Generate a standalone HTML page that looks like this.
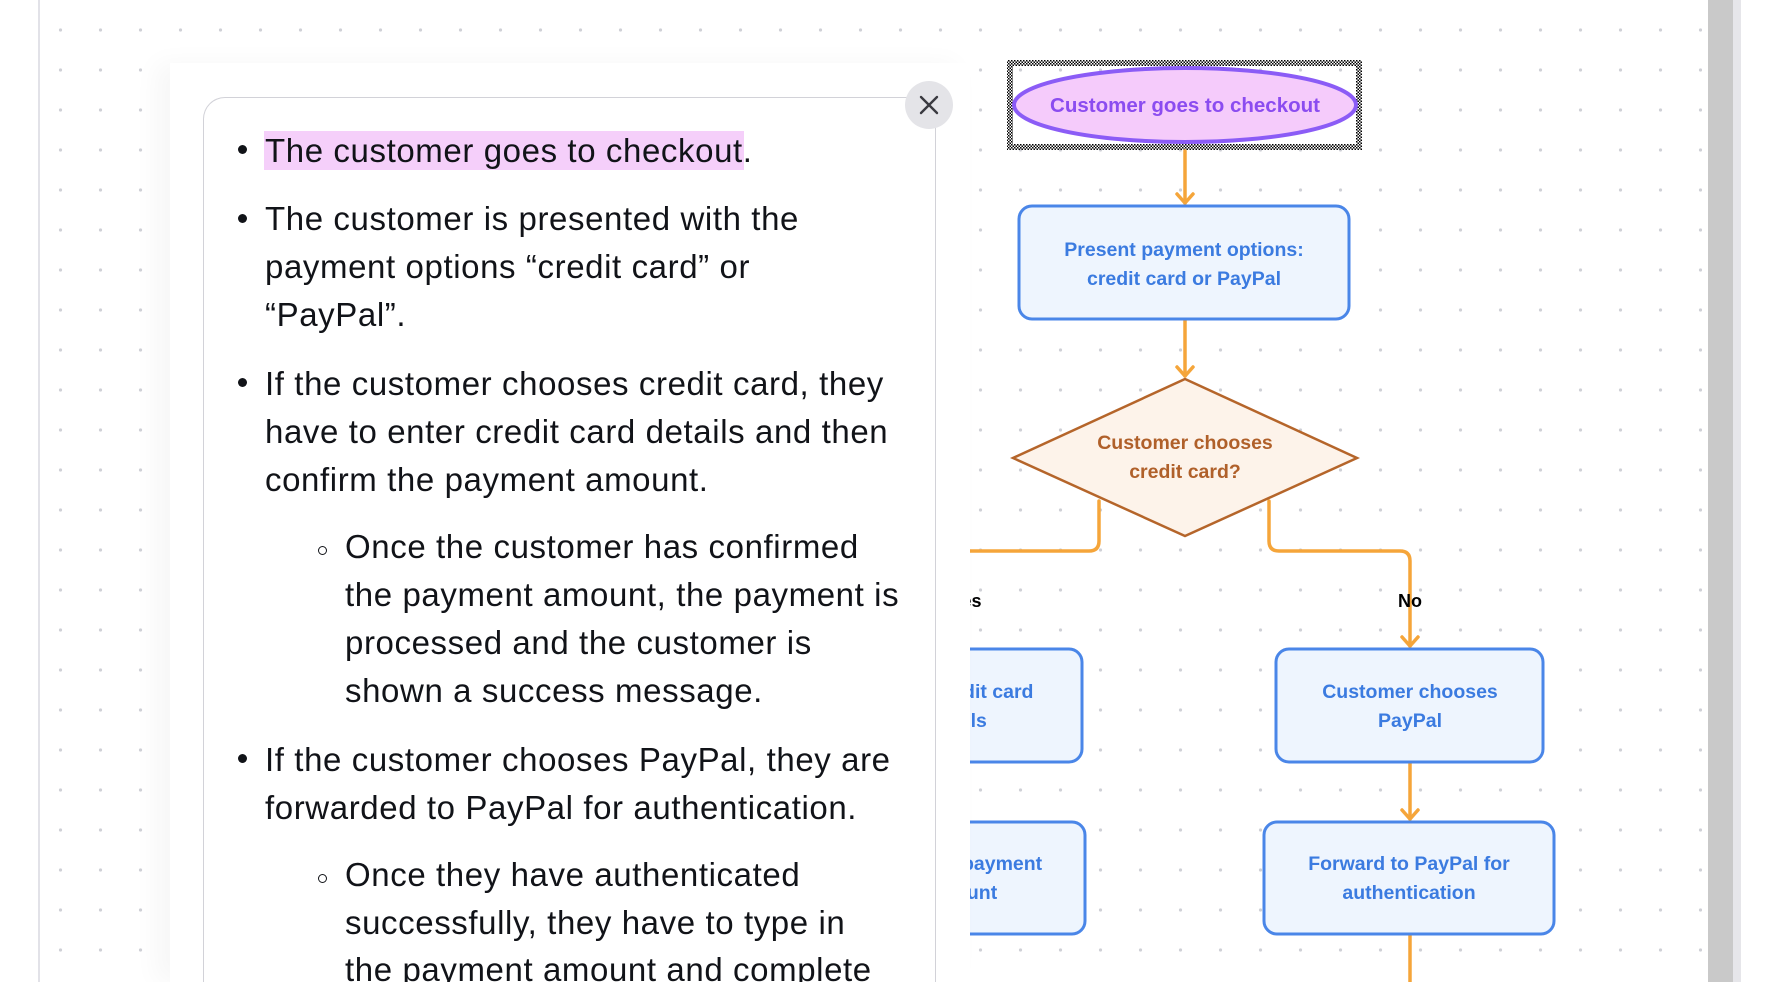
<!DOCTYPE html>
<html><head><meta charset="utf-8">
<style>
html,body{margin:0;padding:0;width:1790px;height:982px;overflow:hidden;}
body{position:relative;background:#fff;font-family:"Liberation Sans",sans-serif;}
#wrap{position:absolute;left:0;top:0;width:1790px;height:982px;overflow:hidden;}
#bg{position:absolute;left:0;top:0;}
#panel{position:absolute;left:170px;top:63px;width:800px;height:919px;background:#fff;box-shadow:-14px 0 24px rgba(0,0,0,0.035);}
#card{position:absolute;left:203px;top:97px;width:733px;height:885px;border:1.5px solid #d2d2d8;border-bottom:none;border-radius:22px 22px 0 0;background:#fff;box-sizing:border-box;}
.l{position:absolute;white-space:nowrap;font-size:33px;letter-spacing:0.6px;line-height:49px;color:#111318;}
.b{position:absolute;width:9px;height:9px;border-radius:50%;background:#111318;}
.c{position:absolute;width:9px;height:9px;border-radius:50%;border:1.6px solid #111318;box-sizing:border-box;}
#hl{position:absolute;left:264px;top:131px;width:480px;height:39px;background:#f5cffa;}
#close{position:absolute;left:905px;top:81px;width:48px;height:48px;border-radius:50%;background:#e4e4e8;}
</style></head><body><div id="wrap">
<svg id="bg" width="1790" height="982" xmlns="http://www.w3.org/2000/svg">
<defs>
<pattern id="dots" x="0" y="0" width="40" height="40" patternUnits="userSpaceOnUse"><circle cx="20.5" cy="30" r="1.6" fill="#cfd0d6"/></pattern>
<pattern id="chk" x="0" y="0" width="3" height="3" patternUnits="userSpaceOnUse"><rect width="1.5" height="1.5" fill="#000"/><rect x="1.5" y="1.5" width="1.5" height="1.5" fill="#000"/></pattern>
</defs>
<rect x="0" y="0" width="1790" height="982" fill="#fff"/>
<rect x="42" y="0" width="1660" height="982" fill="url(#dots)"/>
<rect x="38" y="0" width="2" height="982" fill="#e2e2e8"/>
<rect x="1708" y="0" width="25" height="982" fill="#c9c9c9"/>
<rect x="1733" y="0" width="8" height="982" fill="#e6e6ea"/>
<rect x="1010" y="63" width="349" height="84" fill="none" stroke="url(#chk)" stroke-width="6"/>
<ellipse cx="1185" cy="105" rx="171" ry="37" fill="#f5cbfb" stroke="#8b5cf6" stroke-width="4"/>
<text x="1185" y="112" text-anchor="middle" font-family="Liberation Sans" font-weight="bold" font-size="20.5" fill="#8b4cf0">Customer goes to checkout</text>
<g stroke="#f5a53a" stroke-width="3.5" fill="none" stroke-linecap="round" stroke-linejoin="round">
<path d="M1185 151 V203"/><path d="M1177 194 L1185 203 L1193 194"/>
<path d="M1185 320 V376"/><path d="M1177 367 L1185 376 L1193 367"/>
<path d="M1099 501 V541 Q1099 551 1089 551 H960"/>
<path d="M1269 501 V541 Q1269 551 1279 551 H1400 Q1410 551 1410 561 V646"/><path d="M1402 637 L1410 646 L1418 637"/>
<path d="M1410 763 V819"/><path d="M1402 810 L1410 819 L1418 810"/>
<path d="M1410 935 V982"/>
</g>
<g font-family="Liberation Sans" font-weight="bold" font-size="19.5" text-anchor="middle" fill="#3b7be0">
<rect x="1019" y="206" width="330" height="113" rx="13" fill="#eef5fe" stroke="#4a86e8" stroke-width="3"/>
<text x="1184" y="256">Present payment options:</text>
<text x="1184" y="285">credit card or PayPal</text>
<polygon points="1185,379 1357,458 1185,536 1013,458" fill="#fdf3ea" stroke="#b5652a" stroke-width="2.5"/>
<text x="1185" y="449" fill="#b0602a">Customer chooses</text>
<text x="1185" y="478" fill="#b0602a">credit card?</text>
<text x="1410" y="607" fill="#000" font-size="18">No</text>
<text x="966" y="607" fill="#000" font-size="18">Yes</text>
<rect x="1276" y="649" width="267" height="113" rx="13" fill="#eef5fe" stroke="#4a86e8" stroke-width="3"/>
<text x="1410" y="698">Customer chooses</text>
<text x="1410" y="727">PayPal</text>
<rect x="1264" y="822" width="290" height="112" rx="13" fill="#eef5fe" stroke="#4a86e8" stroke-width="3"/>
<text x="1409" y="870">Forward to PayPal for</text>
<text x="1409" y="899">authentication</text>
<rect x="816" y="649" width="266" height="113" rx="13" fill="#eef5fe" stroke="#4a86e8" stroke-width="3"/>
<text x="956" y="698">Enter credit card</text>
<text x="956" y="727">details</text>
<rect x="795" y="822" width="290" height="112" rx="13" fill="#eef5fe" stroke="#4a86e8" stroke-width="3"/>
<text x="962" y="870">Confirm payment</text>
<text x="962" y="899">amount</text>
</g>
</svg>
<div id="panel"></div>
<div id="card"></div>
<div id="hl"></div>
<div id="close"><svg width="48" height="48"><path d="M16 16 L32 32 M32 16 L16 32" stroke="#3a3a40" stroke-width="2.4" stroke-linecap="round"/></svg></div>

<div class="b" style="left:238px;top:145px"></div>
<div class="l" style="left:265px;top:126px">The customer goes to checkout.</div>

<div class="b" style="left:238px;top:214px"></div>
<div class="l" style="left:265px;top:194px">The customer is presented with the</div>
<div class="l" style="left:265px;top:242px">payment options “credit card” or</div>
<div class="l" style="left:265px;top:290px">“PayPal”.</div>

<div class="b" style="left:238px;top:378px"></div>
<div class="l" style="left:265px;top:359px">If the customer chooses credit card, they</div>
<div class="l" style="left:265px;top:407px">have to enter credit card details and then</div>
<div class="l" style="left:265px;top:455px">confirm the payment amount.</div>

<div class="c" style="left:318px;top:546px"></div>
<div class="l" style="left:345px;top:522px">Once the customer has confirmed</div>
<div class="l" style="left:345px;top:570px">the payment amount, the payment is</div>
<div class="l" style="left:345px;top:618px">processed and the customer is</div>
<div class="l" style="left:345px;top:666px">shown a success message.</div>

<div class="b" style="left:238px;top:754px"></div>
<div class="l" style="left:265px;top:735px">If the customer chooses PayPal, they are</div>
<div class="l" style="left:265px;top:783px">forwarded to PayPal for authentication.</div>

<div class="c" style="left:318px;top:874px"></div>
<div class="l" style="left:345px;top:850px">Once they have authenticated</div>
<div class="l" style="left:345px;top:898px">successfully, they have to type in</div>
<div class="l" style="left:345px;top:945px">the payment amount and complete</div>
</div></body></html>
